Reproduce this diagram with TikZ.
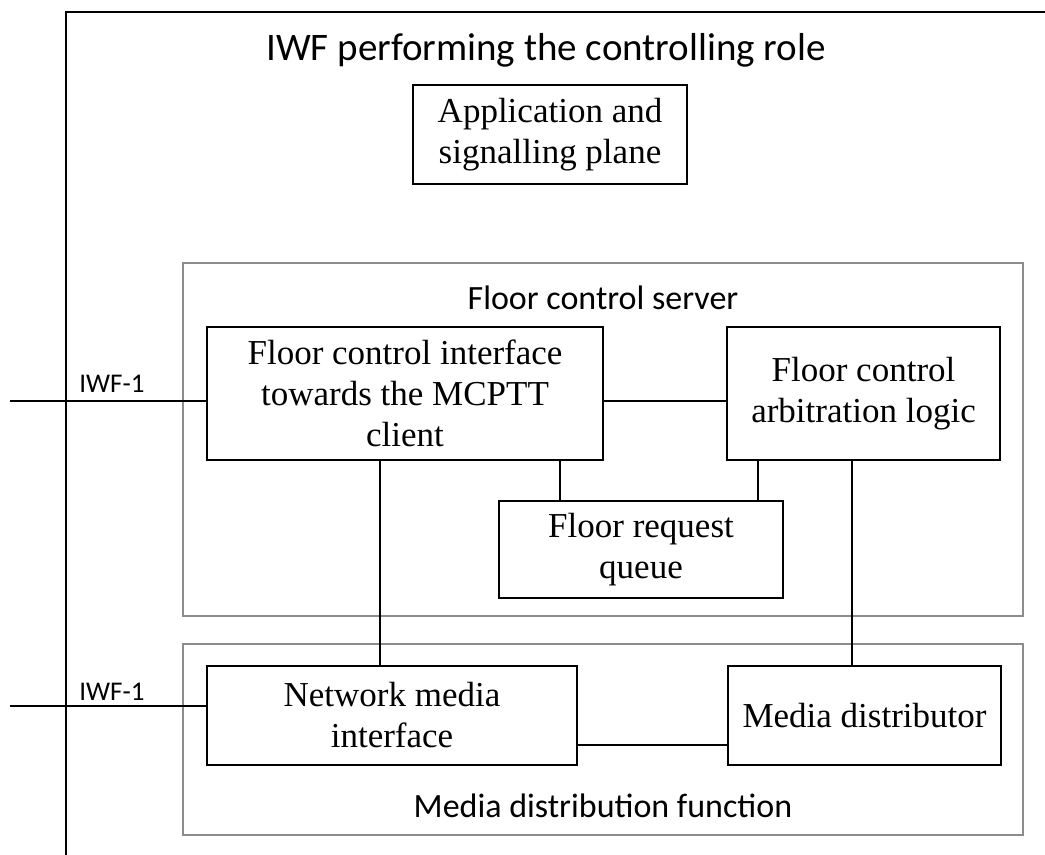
\documentclass[tikz,border=0pt]{standalone}
\usepackage{fontspec}
\setmainfont{Liberation Serif}
\newfontfamily\calibri{Carlito}
\usetikzlibrary{positioning}

\tikzset{
  unit/.style={draw, line width=1pt, inner sep=0pt, align=center,
    font=\fontsize{17.5}{20.5}\selectfont},
  group/.style={draw=gray!90, line width=1pt, inner sep=0pt},
  link/.style={line width=1pt},
  caption/.style={font=\calibri\fontsize{17}{20}\selectfont},
  iface/.style={font=\calibri\fontsize{13.5}{16}\selectfont},
}

\begin{document}
\begin{tikzpicture}[x=0.5pt, y=-0.5pt]
  \useasboundingbox (0,0) rectangle (1045,855);

  % frame of the IWF
  \draw[link] (1050,12) -- (66,12) -- (66,860);
  \node[font=\calibri\fontsize{19.5}{23}\selectfont] (title) at (546,50) {IWF performing the controlling role};

  \node[unit, minimum width=137pt, minimum height=49.5pt] (asp) at (550,134.5) {Application and\\signalling plane};

  % floor control server
  \node[group, minimum width=420pt, minimum height=176.5pt] (fcs) at (603,439.5) {};
  \node[caption] (fcslabel) at (603,298) {Floor control server};
  \node[unit, minimum width=198pt, minimum height=66.5pt] (fci) at (405,393.5) {Floor control interface\\towards the MCPTT\\client};
  \node[unit, minimum width=136.5pt, minimum height=66.5pt] (fal) at (863.5,393.5) {Floor control\\arbitration logic};
  \node[unit, minimum width=142pt, minimum height=48.5pt] (frq) at (641,549.5) {Floor request\\queue};

  % media distribution function
  \node[group, minimum width=420pt, minimum height=95.5pt] (mdf) at (603,739.5) {};
  \node[caption] (mdflabel) at (603,806) {Media distribution function};
  \node[unit, minimum width=185pt, minimum height=49.5pt] (nmi) at (392,715.5) {Network media\\interface};
  \node[unit, minimum width=136.5pt, minimum height=49.5pt] (md) at (864.5,715.5) {Media distributor};

  % IWF-1 reference points
  \coordinate (in1) at (10,401);
  \coordinate (in2) at (10,706);
  \draw[link] (in1) -- (in1 -| fci.west);
  \draw[link] (in2) -- (in2 -| nmi.west);
  \node[iface] (iwfa) at (112,384) {IWF-1};
  \node[iface] (iwfb) at (112,692) {IWF-1};

  % internal connections
  \draw[link] (fci.east |- in1) -- (fal.west |- in1);
  \draw[link] (fci.south -| 380,0) -- (nmi.north -| 380,0);
  \draw[link] (fci.south -| 560,0) -- (frq.north -| 560,0);
  \draw[link] (fal.south -| 758,0) -- (frq.north -| 758,0);
  \draw[link] (fal.south -| 852,0) -- (md.north -| 852,0);
  \draw[link] (nmi.east |- 0,745) -- (md.west |- 0,745);
\end{tikzpicture}
\end{document}
